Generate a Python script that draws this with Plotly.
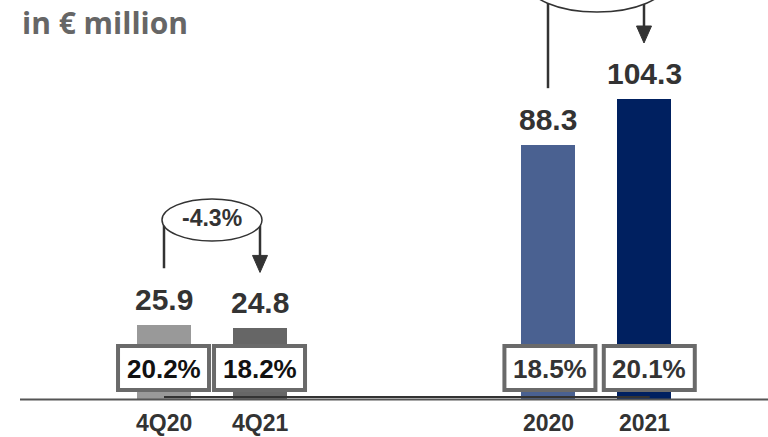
import plotly.graph_objects as go

# ---- data -------------------------------------------------------------
periods = ["4Q20", "4Q21", "2020", "2021"]
values = [25.9, 24.8, 88.3, 104.3]
margins = ["20.2%", "18.2%", "18.5%", "20.1%"]
growth_labels = ["-4.3%", "+18.1%"]
bar_colors = ["#999999", "#666666", "#4a6191", "#002060"]

# ---- geometry helpers (canvas is 768 x 437 px) -------------------------
W, H = 768, 437
BASE_PX = 400                  # pixel row of the zero line
UNIT_PX = 96                   # pixel distance between neighbouring slots
X0_PX = 164                    # pixel column of the first slot
SCALE = 301 / 104.3            # pixels per € million
slots = [0, 1, 4, 5]           # slot index of every bar


def xd(px):
    return (px - X0_PX) / UNIT_PX


def yp(py):
    return 1 - py / H


def yd(py):
    return (BASE_PX - py) / SCALE


def top_px(v):
    return BASE_PX - v * SCALE


BOLD = "Liberation Sans, Arial, sans-serif"

fig = go.Figure()
fig.add_trace(go.Bar(
    x=slots, y=values, width=54 / UNIT_PX,
    marker=dict(color=bar_colors, line=dict(width=0)),
    hoverinfo="skip", showlegend=False,
))

shapes = []
annotations = []

# zero lines
shapes.append(dict(type="line", xref="paper", yref="paper",
                   x0=20 / W, x1=1, y0=yp(399.5), y1=yp(399.5),
                   line=dict(color="#555555", width=2)))
shapes.append(dict(type="line", xref="x", yref="paper",
                   x0=slots[0], x1=slots[3] + 0.06, y0=yp(397), y1=yp(397),
                   line=dict(color="#333333", width=2)))

# value labels above bars
for s, v in zip(slots, values):
    annotations.append(dict(x=s, y=v, xref="x", yref="y", text=f"{v:.1f}",
                            showarrow=False, yanchor="middle", yshift=26,
                            font=dict(family=BOLD, size=30, color="#333333", weight="bold")))

# margin boxes
box_shift = [-0.005, -0.005, 0.02, 0.055]
margin_colors = ["#111111", "#111111", "#333333", "#333333"]
for s, sh, m, c in zip(slots, box_shift, margins, margin_colors):
    cx = s + sh
    shapes.append(dict(type="rect", xref="x", yref="paper",
                       x0=cx - 45.5 / UNIT_PX, x1=cx + 45.5 / UNIT_PX,
                       y0=yp(390), y1=yp(346),
                       fillcolor="white", line=dict(color="#6a6a6a", width=4)))
    annotations.append(dict(x=cx, y=yp(369), xref="x", yref="paper", text=m,
                            showarrow=False, yanchor="middle",
                            font=dict(family=BOLD, size=26, color=c, weight="bold")))

# category labels under the zero line
for s, p in zip(slots, periods):
    annotations.append(dict(x=s, y=yp(436.5), xref="x", yref="paper", text=p,
                            showarrow=False, yanchor="bottom", borderpad=0,
                            font=dict(family=BOLD, size=23, color="#333333", weight="bold")))


# growth arrows: line up from the earlier bar, ellipse, arrow down to the later bar
def growth(i0, i1, ell_cx, ell_cy, rx, ry, label):
    s0, s1 = slots[i0], slots[i1]
    line_bottom = top_px(values[i0]) - 57
    tip = top_px(values[i1]) - 56
    shapes.append(dict(type="line", xref="x", yref="paper",
                       x0=s0, x1=s0, y0=yp(line_bottom), y1=yp(ell_cy),
                       line=dict(color="#333333", width=2.5)))
    shapes.append(dict(type="line", xref="x", yref="paper",
                       x0=s1, x1=s1, y0=yp(ell_cy), y1=yp(tip - 14),
                       line=dict(color="#333333", width=2.5)))
    shapes.append(dict(type="circle", xref="x", yref="paper",
                       x0=xd(ell_cx - rx), x1=xd(ell_cx + rx),
                       y0=yp(ell_cy + ry), y1=yp(ell_cy - ry),
                       fillcolor="white", line=dict(color="#333333", width=1.5)))
    hw = 7.5 / UNIT_PX
    shapes.append(dict(type="path", xref="x", yref="paper",
                       path=f"M {s1 - hw} {yp(tip - 17)} L {s1 + hw} {yp(tip - 17)} L {s1} {yp(tip)} Z",
                       fillcolor="#333333", line=dict(color="#333333", width=1)))
    if ell_cy > 0:
        annotations.append(dict(x=xd(ell_cx), y=yp(ell_cy - 2), xref="x", yref="paper",
                                text=label, showarrow=False, yanchor="middle",
                                font=dict(family=BOLD, size=23,
                                          color="#333333", weight="bold")))


growth(0, 1, 212, 220, 50, 21, growth_labels[0])
growth(2, 3, 597, -18, 70, 30, growth_labels[1])

# unit note
annotations.append(dict(x=20 / W, y=yp(23), xref="paper", yref="paper",
                        text="in € million", showarrow=False,
                        xanchor="left", yanchor="middle",
                        font=dict(family="Open Sans, sans-serif", size=30,
                                  color="#666666", weight="bold")))

fig.update_layout(
    width=W, height=H,
    margin=dict(l=0, r=0, t=0, b=0),
    paper_bgcolor="white", plot_bgcolor="white",
    xaxis=dict(range=[xd(0), xd(W)], visible=False, fixedrange=True),
    yaxis=dict(range=[yd(H), yd(0)], visible=False, fixedrange=True),
    shapes=shapes, annotations=annotations,
    bargap=0,
)

fig.write_html("out.html")
